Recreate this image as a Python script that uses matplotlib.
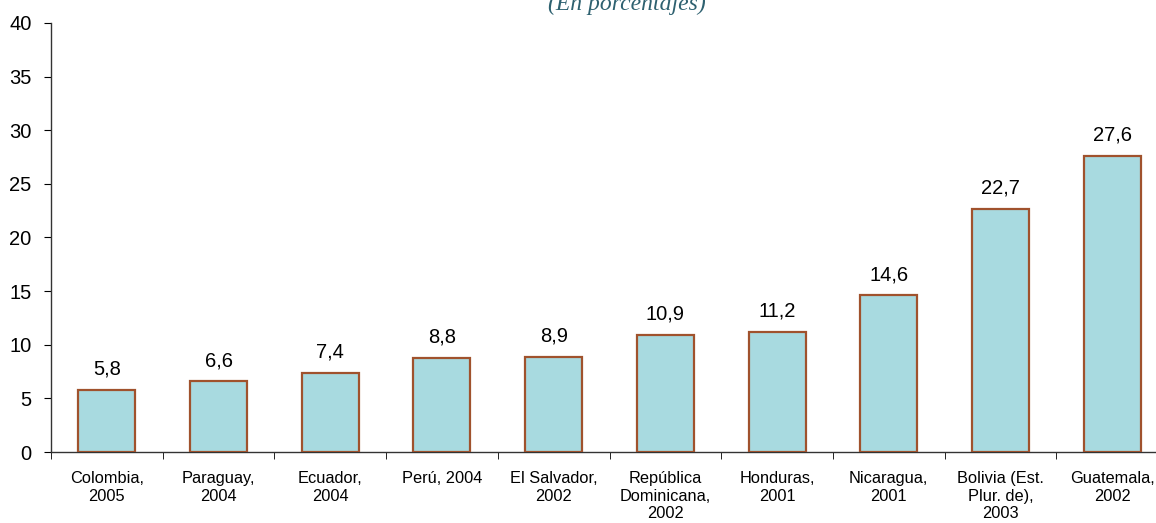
import matplotlib
matplotlib.use("Agg")
import matplotlib.pyplot as plt
import numpy as np

plt.rcParams["font.family"] = ["Liberation Sans", "DejaVu Sans"]

countries = [
    "Colombia,\n2005", "Paraguay,\n2004", "Ecuador,\n2004", "Perú, 2004",
    "El Salvador,\n2002", "República\nDominicana,\n2002", "Honduras,\n2001",
    "Nicaragua,\n2001", "Bolivia (Est.\nPlur. de),\n2003", "Guatemala,\n2002",
]
values = [5.8, 6.6, 7.4, 8.8, 8.9, 10.9, 11.2, 14.6, 22.7, 27.6]

fig = plt.figure(figsize=(11.56, 5.23), dpi=100)
ax = fig.add_axes([51 / 1156, 71 / 523, 1117 / 1156, 429 / 523])

x = np.arange(len(values))
bars = ax.bar(x, values, width=0.51, color="#A8DAE0",
              edgecolor="#A0522D", linewidth=1.6, zorder=3)

for xi, v in zip(x, values):
    ax.annotate(f"{v:.1f}".replace(".", ","), (xi, v),
                xytext=(0, 8), textcoords="offset points",
                ha="center", va="bottom", fontsize=14.5)

ax.set_xlim(-0.5, len(values) - 0.5)
ax.set_ylim(0, 40)
ax.set_yticks(range(0, 41, 5))
ax.tick_params(axis="y", labelsize=14.5, length=5, pad=9, direction="out")

# category labels centred, tick marks on the boundaries
ax.set_xticks(x)
ax.set_xticklabels(countries, fontsize=11.8, linespacing=1.2)
ax.tick_params(axis="x", length=0, pad=14)
ax.set_xticks(np.arange(-0.5, len(values), 1), minor=True)
ax.tick_params(axis="x", which="minor", length=5, direction="out")

for s in ["top", "right"]:
    ax.spines[s].set_visible(False)
for s in ["left", "bottom"]:
    ax.spines[s].set_color("#333333")
    ax.spines[s].set_linewidth(1.0)

fig.text(627 / 1156, 1 - 10 / 523, "(En porcentajes)", ha="center",
         va="baseline", fontsize=17, style="italic", color="#2E6170",
         family=["Liberation Serif", "DejaVu Serif"])

fig.savefig("out.png", dpi=100)
